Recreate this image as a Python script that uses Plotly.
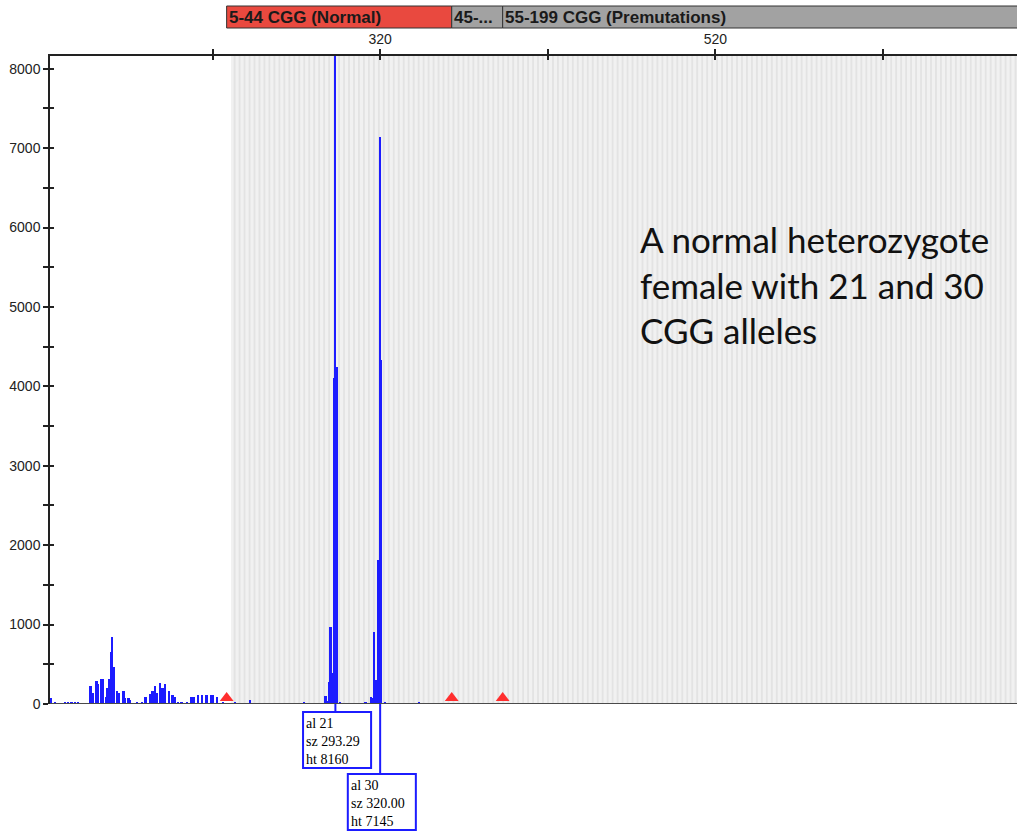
import plotly.graph_objects as go

# ---------------- data ----------------
peak_sizes = [123.6, 126.0, 132.0, 134.0, 136.0, 138.0, 140.0,
              147.3, 148.5, 150.9, 151.8, 153.4, 154.9, 156.4, 157.4, 158.4, 159.4, 160.2, 161.4,
              163.2, 164.2, 167.0, 167.8, 170.0, 170.7,
              174.9, 177.9, 180.1, 182.7, 184.3, 185.7, 186.7, 188.7, 190.3, 191.6, 194.0, 196.2, 197.6,
              199.6, 201.6, 205.0, 207.6, 209.0, 211.5, 213.9, 216.5, 219.1, 220.5, 222.9, 226.4,
              233.4, 242.4, 274.6,
              287.6, 288.4, 289.7, 290.6, 291.2, 292.7, 293.29, 294.3, 296.1,
              311.5, 314.6, 315.4, 316.4, 317.6, 318.4, 319.0, 320.0, 320.8, 323.0, 343.3]
peak_heights = [72, 20, 25, 22, 25, 20, 25,
                226, 140, 290, 248, 310, 310, 92, 205, 310, 658, 847, 461,
                168, 142, 168, 75, 75, 50,
                20, 20, 84, 122, 170, 226, 134, 268, 197, 248, 164, 113, 92,
                29, 29, 29, 92, 92, 109, 109, 109, 109, 109, 84, 29,
                17, 50, 20,
                105, 40, 280, 972, 394, 4110, 8160, 4250, 20,
                20, 92, 80, 910, 302, 155, 1811, 7145, 4335, 20, 30]

alleles = [21, 30]
allele_sizes = [293.29, 320.00]
allele_heights = [8160, 7145]

bin_names = ["5-44 CGG (Normal)", "45-...", "55-199 CGG (Premutations)"]
bin_starts = [228.4, 362.7, 393.1]
bin_ends = [362.7, 393.1, 760.0]
bin_colors = ["#e9493f", "#a2a2a2", "#a2a2a2"]
marker_sizes = [228.4, 362.7, 393.1]

x_tickvals = [220, 320, 420, 520, 620]
x_ticktext = ["", "320", "", "520", ""]
y_tickvals = [0, 1000, 2000, 3000, 4000, 5000, 6000, 7000, 8000]

X_RANGE = [123, 700]
Y_RANGE = [0, 8160]

fig = go.Figure()

# peaks
fig.add_trace(go.Bar(x=peak_sizes, y=peak_heights, width=1.1,
                     marker=dict(color="#1c1cff", line=dict(width=0)),
                     hoverinfo="x+y", showlegend=False))

# bin markers (red triangles)
fig.add_trace(go.Scatter(x=marker_sizes, y=[75] * len(marker_sizes), mode="markers",
                         marker=dict(symbol="triangle-up", size=12, color="#ff2e2e"),
                         cliponaxis=False, showlegend=False, hoverinfo="skip"))

# invisible trace for overlay axes (inside ticks)
fig.add_trace(go.Scatter(x=[X_RANGE[0]], y=[0], xaxis="x2", yaxis="y2", mode="markers",
                         marker=dict(opacity=0), showlegend=False, hoverinfo="skip"))

shapes = []
# grey binned area
shade_start = 231.0
shapes.append(dict(type="rect", xref="x", yref="paper", x0=shade_start, x1=X_RANGE[1] + 5,
                   y0=0, y1=1, fillcolor="#f1f1f1", line=dict(width=0), layer="below"))
step = 2.968
k = 0
while shade_start + k * step < X_RANGE[1]:
    x0 = shade_start + k * step + 1.6
    shapes.append(dict(type="rect", xref="x", yref="paper", x0=x0, x1=x0 + 1.1,
                       y0=0, y1=1, fillcolor="#e3e3e3", line=dict(width=0), layer="below"))
    k += 1

# baseline
shapes.append(dict(type="line", xref="paper", yref="y", x0=0, x1=1, y0=0, y1=0,
                   line=dict(color="#4a4a4a", width=2), layer="above"))

# top category bar
bar_y0, bar_y1 = 1 + (56 - 28) / 648, 1 + (56 - 6) / 648
annotations = []
for name, s, e, c in zip(bin_names, bin_starts, bin_ends, bin_colors):
    shapes.append(dict(type="rect", xref="x", yref="paper", x0=s, x1=e, y0=bar_y0, y1=bar_y1,
                       fillcolor=c, line=dict(color="#333333", width=1)))
    annotations.append(dict(x=s + 0.4, y=(bar_y0 + bar_y1) / 2, xref="x", yref="paper",
                            text="<b>" + name + "</b>", showarrow=False, xanchor="left",
                            yanchor="middle",
                            font=dict(family="Liberation Sans Narrow, Liberation Sans, Arial",
                                      size=17, color="#1a1a1a")))

# allele label boxes
box_tops = [-(712 - 704) / 648, -(774 - 704) / 648]
box_h = 56 / 648
for a, sz, ht, top in zip(alleles, allele_sizes, allele_heights, box_tops):
    x0 = sz - 19.3
    x1 = x0 + 40.6
    shapes.append(dict(type="line", xref="x", yref="paper", x0=sz, x1=sz, y0=0, y1=top,
                       line=dict(color="#1c1cff", width=2)))
    shapes.append(dict(type="rect", xref="x", yref="paper", x0=x0, x1=x1, y0=top - box_h, y1=top,
                       fillcolor="white", line=dict(color="#1c1cff", width=2)))
    annotations.append(dict(x=x0 + 0.5, y=top - 0.003, xref="x", yref="paper",
                            text=f"al {a}<br>sz {sz:.2f}<br>ht {ht}",
                            showarrow=False, xanchor="left", yanchor="top", align="left",
                            font=dict(family="Liberation Serif, Times New Roman, serif",
                                      size=14, color="#000000")))

# descriptive text (position given in pixels, converted to paper units)
annotations.append(dict(x=(638 - 50) / 967, y=1 - (216 - 56) / 648, xref="paper", yref="paper",
                        text="A normal heterozygote<br>female with 21 and 30<br>CGG alleles",
                        showarrow=False, xanchor="left", yanchor="top", align="left",
                        font=dict(family="Lato, Open Sans, sans-serif", size=35, color="#111111")))

fig.update_layout(
    width=1017, height=831,
    margin=dict(l=50, r=0, t=56, b=127),
    paper_bgcolor="white", plot_bgcolor="white",
    bargap=0, barmode="overlay",
    shapes=shapes, annotations=annotations,
    xaxis=dict(range=X_RANGE, side="top", showgrid=False, zeroline=False,
               showline=True, linecolor="#222222", linewidth=1.5,
               tickmode="array", tickvals=x_tickvals, ticktext=x_ticktext,
               ticks="outside", ticklen=5, tickwidth=1.5, tickcolor="#222222",
               tickfont=dict(family="Liberation Sans Narrow, Liberation Sans, Arial", size=14,
                             color="#222222")),
    yaxis=dict(range=Y_RANGE, showgrid=False, zeroline=False,
               showline=True, linecolor="#222222", linewidth=1.5,
               tickmode="array", tickvals=y_tickvals,
               ticks="outside", ticklen=5, tickwidth=1.5, tickcolor="#222222",
               minor=dict(dtick=500, tick0=0, ticks="outside", ticklen=5, tickwidth=1.5,
                          tickcolor="#222222", showgrid=False),
               tickfont=dict(family="Liberation Sans, Arial", size=14, color="#222222")),
    xaxis2=dict(range=X_RANGE, overlaying="x", side="top", showgrid=False, zeroline=False,
                showline=False, tickmode="array", tickvals=x_tickvals, showticklabels=False,
                ticks="inside", ticklen=4, tickwidth=1.5, tickcolor="#222222"),
    yaxis2=dict(range=Y_RANGE, overlaying="y", side="left", showgrid=False, zeroline=False,
                showline=False, tickmode="linear", tick0=0, dtick=500, showticklabels=False,
                ticks="inside", ticklen=4, tickwidth=1.5, tickcolor="#222222"),
    showlegend=False,
)

fig.write_html("out.html")
